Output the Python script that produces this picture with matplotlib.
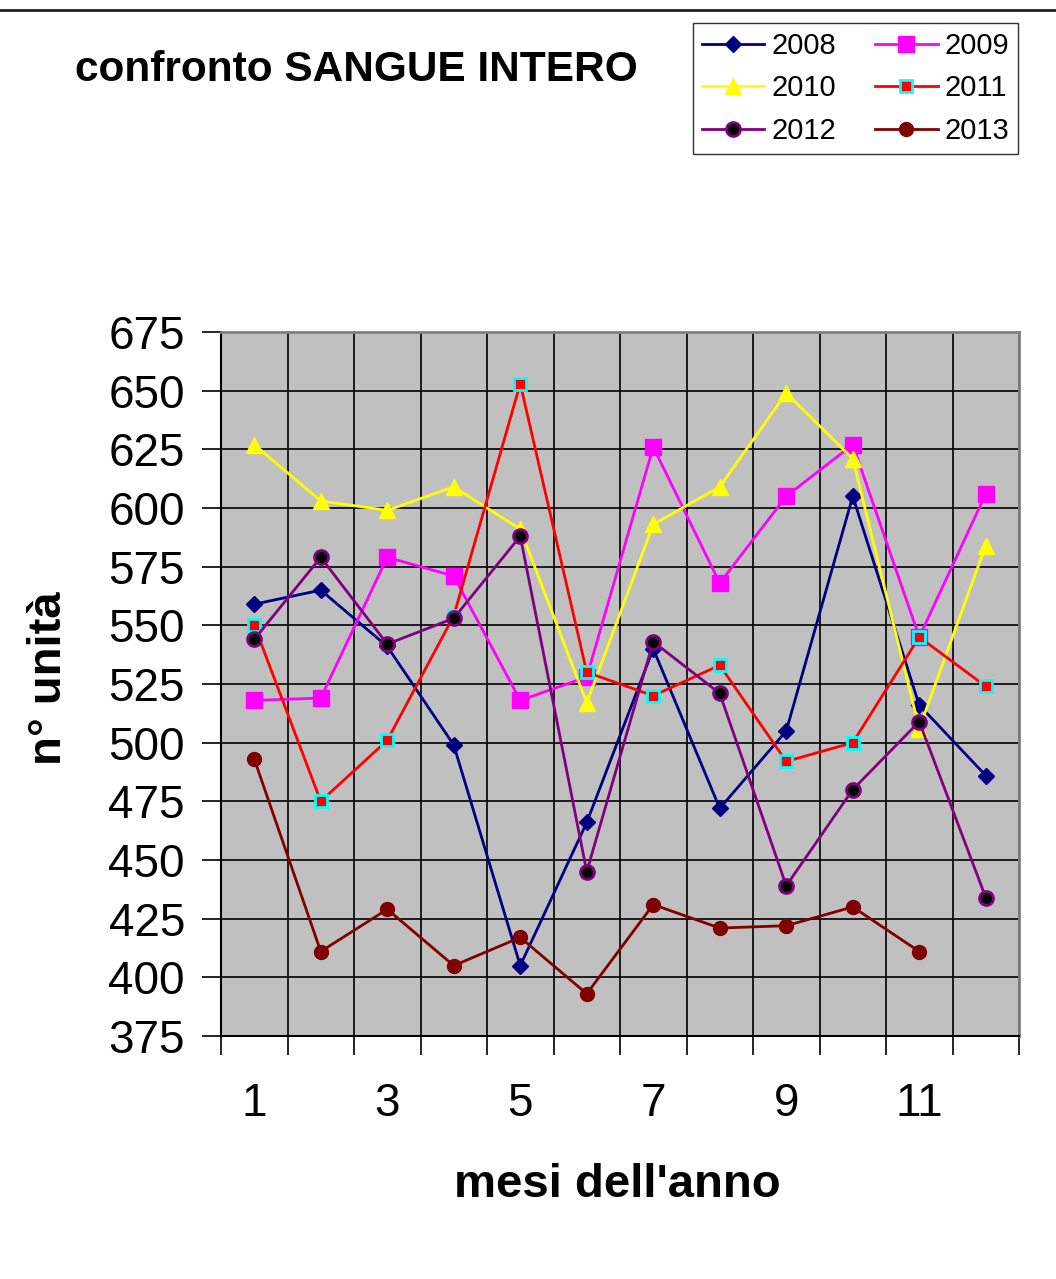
import matplotlib.pyplot as plt
from matplotlib.lines import Line2D
import numpy as np

plt.rcParams['font.family'] = ['Liberation Sans', 'DejaVu Sans']

mesi = np.arange(1, 13)
v2008 = [559, 565, 541, 499, 405, 466, 540, 472, 505, 605, 516, 486]
v2009 = [518, 519, 579, 571, 518, 528, 626, 568, 605, 627, 545, 606]
v2010 = [627, 603, 599, 609, 591, 517, 593, 609, 649, 621, 506, 584]
v2011 = [550, 475, 501, 554, 653, 530, 520, 533, 492, 500, 545, 524]
v2012 = [544, 579, 542, 553, 588, 445, 543, 521, 439, 480, 509, 434]
v2013 = [493, 411, 429, 405, 417, 393, 431, 421, 422, 430, 411, np.nan]

W, H = 1056, 1279
fig = plt.figure(figsize=(W / 100, H / 100), dpi=100)
ax = fig.add_axes([221 / W, 1 - 1036 / H, (1019 - 221) / W, 704 / H])
ax.set_facecolor('#C0C0C0')

lw = 2
l08, = ax.plot(mesi, v2008, color='#000080', lw=lw, marker='D', ms=8,
               mfc='#000080', mec='#000080', label='2008')
l09, = ax.plot(mesi, v2009, color='#FF00FF', lw=lw, marker='s', ms=11,
               mfc='#FF00FF', mec='#FF00FF', label='2009')
l10, = ax.plot(mesi, v2010, color='#FFFF00', lw=lw, marker='^', ms=12,
               mfc='#FFFF00', mec='#FFFF00', label='2010')
l11, = ax.plot(mesi, v2011, color='#FF0000', lw=lw, marker='s', ms=9, mew=2,
               mfc='#FF0000', mec='#00FFFF', label='2011')
l12, = ax.plot(mesi, v2012, color='#800080', lw=lw, marker='o', ms=10, mew=2,
               mfc='black', mec='#800080', label='2012')
l13, = ax.plot(mesi, v2013, color='#800000', lw=lw, marker='o', ms=10,
               mfc='#800000', mec='#800000', label='2013')

ax.set_xlim(0.5, 12.5)
ax.set_ylim(375, 675)
ax.set_yticks(np.arange(375, 676, 25))
ax.set_xticks(np.arange(1, 12, 2))
ax.set_xticks(np.arange(0.5, 12.6, 1), minor=True)
ax.tick_params(axis='x', which='major', length=0, pad=33, labelsize=33)
ax.tick_params(axis='x', which='minor', length=14, width=1.2, direction='out')
ax.tick_params(axis='y', length=14, width=1.2, direction='out', pad=12, labelsize=33)

ax.grid(axis='y', which='major', color='black', lw=1.2)
ax.grid(axis='x', which='minor', color='black', lw=1.2)
ax.set_axisbelow(True)

for s in ['top', 'right']:
    ax.spines[s].set_color('#808080')
    ax.spines[s].set_linewidth(2)
for s in ['left', 'bottom']:
    ax.spines[s].set_color('black')
    ax.spines[s].set_linewidth(1.5)

fig.text(617 / W, 1 - 1185 / H, "mesi dell'anno", ha='center', va='center',
         fontsize=34, fontweight='bold')
fig.text(49 / W, 1 - 678 / H, "n° unità", ha='center', va='center',
         rotation=90, fontsize=34, fontweight='bold')
fig.text(75 / W, 1 - 70 / H, "confronto SANGUE INTERO", ha='left', va='center',
         fontsize=30.5, fontweight='bold')

fig.add_artist(Line2D([0, 1], [1 - 10 / H, 1 - 10 / H], color='#202020', lw=2))

# ordine per righe come nel riferimento
handles = [l08, l10, l12, l09, l11, l13]
leg = fig.legend(handles, [h.get_label() for h in handles],
                 loc='upper right', bbox_to_anchor=(1018 / W, 1 - 23 / H),
                 borderaxespad=0, ncol=2, fontsize=21, frameon=True,
                 fancybox=False, edgecolor='black', handlelength=2.15,
                 columnspacing=1.33, handletextpad=0.24, labelspacing=0.5,
                 borderpad=0.3)
leg.get_frame().set_linewidth(1)

fig.savefig('out.png', dpi=100)
